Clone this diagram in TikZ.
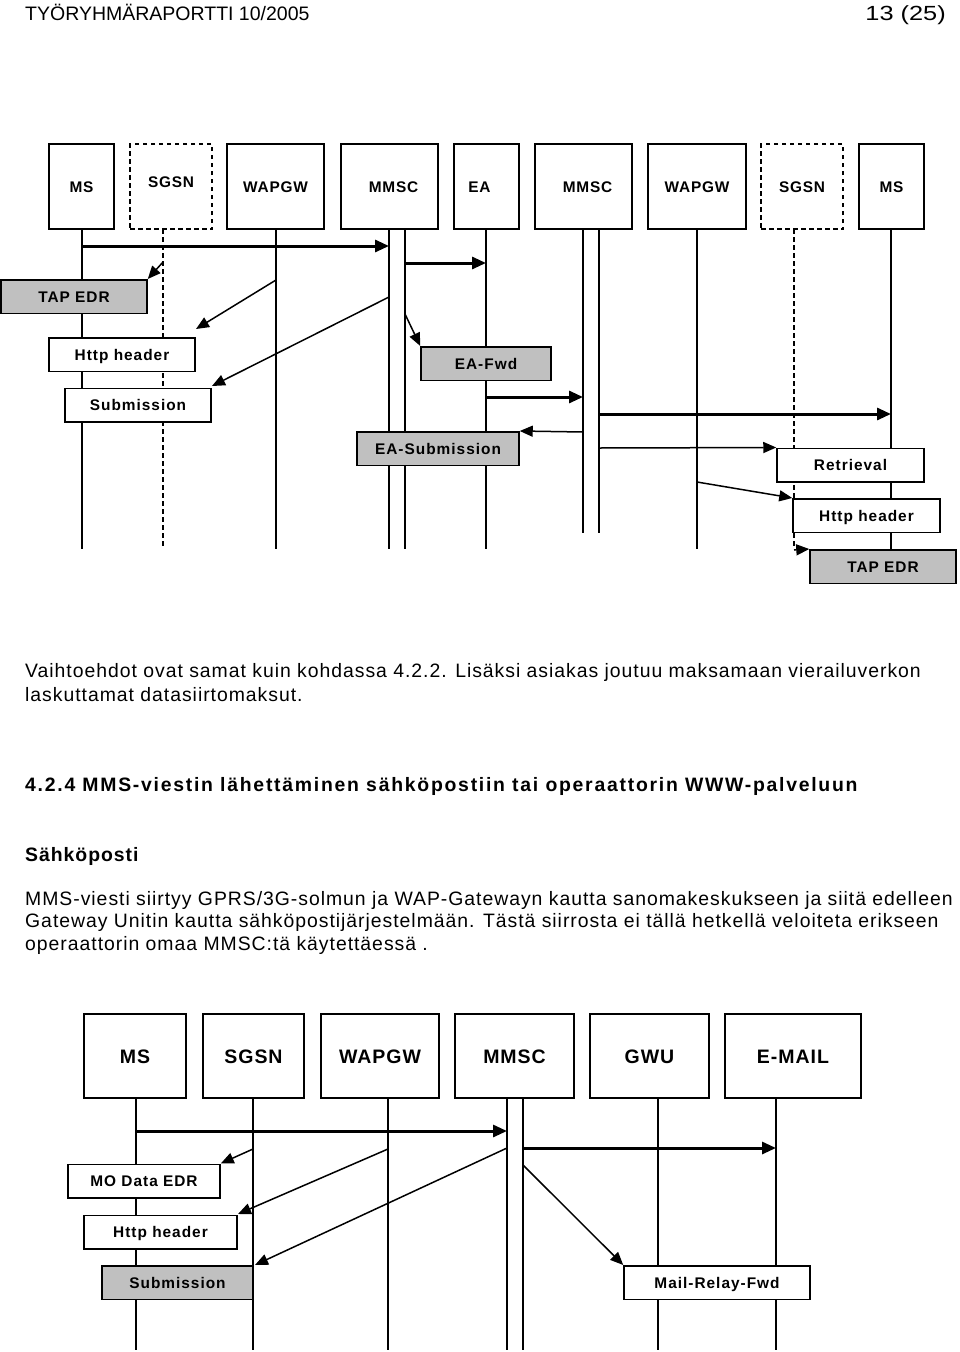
\documentclass[tikz,border=0pt]{standalone}
\usepackage{fontspec}
\usepackage{graphicx}
\setmainfont{Liberation Sans}
\newfontfamily\bodyf[LetterSpace=5]{Liberation Sans}
\newfontfamily\lblf[LetterSpace=6.5]{Liberation Sans}
\newfontfamily\headf[LetterSpace=9]{Liberation Sans}
\newfontfamily\hdrf{Liberation Sans}
\usetikzlibrary{arrows.meta}
\definecolor{boxgray}{RGB}{192,192,192}
\begin{document}
\begin{tikzpicture}[x=1pt,y=-1pt,
  >={Triangle[length=13pt,width=11pt]},
  hbox/.style={draw, line width=1.5pt, rectangle, inner sep=0pt, fill=white, minimum height=85pt,
    text height=11pt, text depth=0pt,
    font=\bodyf\bfseries\fontsize{15.4}{16}\selectfont},
  hboxd/.style={hbox, dash pattern=on 4.5pt off 3.5pt},
  bbox/.style={draw, line width=1.5pt, rectangle, inner sep=0pt, fill=white, minimum height=84pt,
    text height=14pt, text depth=0pt,
    font=\bodyf\bfseries\fontsize{19.5}{20}\selectfont},
  mbox/.style={draw, line width=1.5pt, rectangle, inner sep=0pt, fill=white, minimum height=33.5pt,
    text height=11pt, text depth=0pt,
    font=\lblf\bfseries\fontsize{15.4}{16}\selectfont},
  gbox/.style={mbox, fill=boxgray},
  life/.style={line width=1.3pt},
  lifed/.style={line width=1.3pt, dash pattern=on 4.5pt off 3.5pt},
  thickarr/.style={line width=3pt, -{Triangle[length=14pt,width=12pt]}},
  thinarr/.style={line width=1.5pt, ->},
  btext/.style={anchor=base west, inner sep=0pt, font=\bodyf\fontsize{19.4}{22}\selectfont},
]
\useasboundingbox (0,0) rectangle (960,1352);
\fill[white] (0,0) rectangle (960,1352);

% header
\node[anchor=base west, inner sep=0pt, font=\hdrf\fontsize{19.5}{22}\selectfont] (hdr) at (25,20) {TYÖRYHMÄRAPORTTI 10/2005};
\node[anchor=base east, inner sep=0pt, font=\hdrf\fontsize{19.5}{22}\selectfont] (pg) at (946,20) {\scalebox{1.3}[1.05]{13 (25)}};

% ---------------- top diagram: lifelines ----------------
\coordinate (ms1t) at (82,229);   \coordinate (ms1e) at (82,549);
\coordinate (sg1t) at (163,229);  \coordinate (sg1e) at (163,549);
\coordinate (wa1t) at (276,229);  \coordinate (wa1e) at (276,549);
\coordinate (mmaT) at (389,229);  \coordinate (mmaE) at (389,549);
\coordinate (mmbT) at (405,229);  \coordinate (mmbE) at (405,549);
\coordinate (eaT) at (486,229);   \coordinate (eaE) at (486,549);
\coordinate (mmcT) at (583,229);  \coordinate (mmcE) at (583,533);
\coordinate (mmdT) at (599,229);  \coordinate (mmdE) at (599,533);
\coordinate (wa2t) at (697,229);  \coordinate (wa2e) at (697,549);
\coordinate (sg2t) at (794,229);  \coordinate (sg2e) at (794,549);
\coordinate (ms2t) at (891,229);  \coordinate (ms2e) at (891,550);

\draw[life] (ms1t) -- (ms1e);
\draw[lifed] (sg1t) -- (sg1e);
\draw[life] (wa1t) -- (wa1e);
\draw[life] (mmaT) -- (mmaE);
\draw[life] (mmbT) -- (mmbE);
\draw[life] (eaT) -- (eaE);
\draw[life] (mmcT) -- (mmcE);
\draw[life] (mmdT) -- (mmdE);
\draw[life] (wa2t) -- (wa2e);
\draw[lifed] (sg2t) -- (sg2e);
\draw[life] (ms2t) -- (ms2e);

% header boxes
\node[hbox, minimum width=65pt] (ms1) at (81.5,186.5) {MS};
\node[hboxd, minimum width=82pt] (sg1) at (171,186.5) {\raisebox{5pt}{SGSN}};
\node[hbox, minimum width=97pt] (wa1) at (275.5,186.5) {WAPGW};
\node[hbox, minimum width=97pt] (mm1) at (389.5,186.5) {\kern8pt MMSC};
\node[hbox, minimum width=65pt] (ea) at (486.5,186.5) {EA\kern14pt};
\node[hbox, minimum width=97pt] (mm2) at (583.5,186.5) {\kern8pt MMSC};
\node[hbox, minimum width=98pt] (wa2) at (697,186.5) {WAPGW};
\node[hboxd, minimum width=82pt] (sg2) at (802,186.5) {SGSN};
\node[hbox, minimum width=65pt] (ms2) at (891.5,186.5) {MS};

% message boxes
\node[gbox, minimum width=146pt] (tap1) at (74,296.5) {TAP EDR};
\node[mbox, minimum width=146pt] (http1) at (122,354.5) {Http header};
\node[mbox, minimum width=146pt] (sub1) at (138,405) {Submission};
\node[gbox, minimum width=130pt] (eafwd) at (486,363.5) {EA-Fwd};
\node[gbox, minimum width=162pt] (easub) at (438,448.5) {EA-Submission};
\node[mbox, minimum width=147pt] (retr) at (850.5,465) {Retrieval};
\node[mbox, minimum width=147pt] (http2) at (866.5,515.5) {Http header};
\node[gbox, minimum width=146pt] (tap2) at (883,566.5) {TAP EDR};

% arrows top
\coordinate (a1s) at (82,246);  \coordinate (a1e) at (389,246);
\coordinate (a2s) at (405,263); \coordinate (a2e) at (486,263);
\coordinate (a3s) at (163,262);
\coordinate (a4s) at (276,280); \coordinate (a4e) at (196,329);
\coordinate (a5s) at (389,297); \coordinate (a5e) at (212,386);
\coordinate (a6s) at (405,314);
\coordinate (a7s) at (486,397); \coordinate (a7e) at (583,397);
\coordinate (a8s) at (599,414); \coordinate (a8e) at (891,414);
\coordinate (a9s) at (583,432);
\coordinate (a10s) at (599,448);
\coordinate (a11s) at (697,482);
\coordinate (a12s) at (794,550);

\draw[thickarr] (a1s) -- (a1e);
\draw[thickarr] (a2s) -- (a2e);
\draw[thinarr] (a3s) -- (tap1.north east);
\draw[thinarr] (a4s) -- (a4e);
\draw[thinarr] (a5s) -- (a5e);
\draw[thinarr] (a6s) -- (eafwd.north west);
\draw[thickarr] (a7s) -- (a7e);
\draw[thickarr] (a8s) -- (a8e);
\draw[thinarr] (a9s) -- (easub.north east);
\draw[thinarr] (a10s) -- (retr.north west);
\draw[thinarr] (a11s) -- (http2.north west);
\draw[thinarr] (a12s) -- (tap2.north west);

% ---------------- body text ----------------
\node[btext] (p1) at (25,677) {Vaihtoehdot ovat samat kuin kohdassa 4.2.2. Lisäksi asiakas joutuu maksamaan vierailuverkon};
\node[btext] (p2) at (25,701) {laskuttamat datasiirtomaksut.};
\node[btext, font=\headf\bfseries\fontsize{19.4}{22}\selectfont] (h1) at (25,791) {4.2.4 MMS-viestin lähettäminen sähköpostiin tai operaattorin WWW-palveluun};
\node[btext, font=\bodyf\bfseries\fontsize{19.4}{22}\selectfont] (h2) at (25,861) {Sähköposti};
\node[btext] (p3) at (25,905) {MMS-viesti siirtyy GPRS/3G-solmun ja WAP-Gatewayn kautta sanomakeskukseen ja siitä edelleen};
\node[btext] (p4) at (25,927) {Gateway Unitin kautta sähköpostijärjestelmään. Tästä siirrosta ei tällä hetkellä veloiteta erikseen};
\node[btext] (p5) at (25,950) {operaattorin omaa MMSC:tä käytettäessä .};

% ---------------- bottom diagram ----------------
\coordinate (ms3t) at (136,1098); \coordinate (ms3e) at (136,1350);
\coordinate (sg3t) at (253,1098); \coordinate (sg3e) at (253,1350);
\coordinate (wa3t) at (388,1098); \coordinate (wa3e) at (388,1350);
\coordinate (mmeT) at (507,1098); \coordinate (mmeE) at (507,1350);
\coordinate (mmfT) at (523,1098); \coordinate (mmfE) at (523,1350);
\coordinate (gwT) at (658,1098);  \coordinate (gwE) at (658,1350);
\coordinate (emT) at (776,1098);  \coordinate (emE) at (776,1350);

\draw[life] (ms3t) -- (ms3e);
\draw[life] (sg3t) -- (sg3e);
\draw[life] (wa3t) -- (wa3e);
\draw[life] (mmeT) -- (mmeE);
\draw[life] (mmfT) -- (mmfE);
\draw[life] (gwT) -- (gwE);
\draw[life] (emT) -- (emE);

\node[bbox, minimum width=102pt] (ms3) at (135,1056) {MS};
\node[bbox, minimum width=101pt] (sg3) at (253.5,1056) {SGSN};
\node[bbox, minimum width=118pt] (wa3) at (380,1056) {WAPGW};
\node[bbox, minimum width=119pt] (mm3) at (514.5,1056) {MMSC};
\node[bbox, minimum width=119pt] (gwu) at (649.5,1056) {GWU};
\node[bbox, minimum width=136pt] (em) at (793,1056) {E-MAIL};

\node[mbox, minimum width=152pt] (mo) at (144,1181) {MO Data EDR};
\node[mbox, minimum width=153pt] (http3) at (160.5,1232) {Http header};
\node[gbox, minimum width=151pt] (sub3) at (177.5,1282.5) {Submission};
\node[mbox, minimum width=186pt] (mrf) at (717,1282.5) {Mail-Relay-Fwd};

\coordinate (b1s) at (136,1131); \coordinate (b1e) at (507,1131);
\coordinate (b2s) at (523,1148); \coordinate (b2e) at (776,1148);
\coordinate (b3s) at (253,1149);
\coordinate (b4s) at (388,1149); \coordinate (b4e) at (238,1214);
\coordinate (b5s) at (507,1148); \coordinate (b5e) at (255,1265);
\coordinate (b6s) at (523,1165);

\draw[thickarr] (b1s) -- (b1e);
\draw[thickarr] (b2s) -- (b2e);
\draw[thinarr] (b3s) -- (mo.north east);
\draw[thinarr] (b4s) -- (b4e);
\draw[thinarr] (b5s) -- (b5e);
\draw[thinarr] (b6s) -- (mrf.north west);
\end{tikzpicture}
\end{document}
